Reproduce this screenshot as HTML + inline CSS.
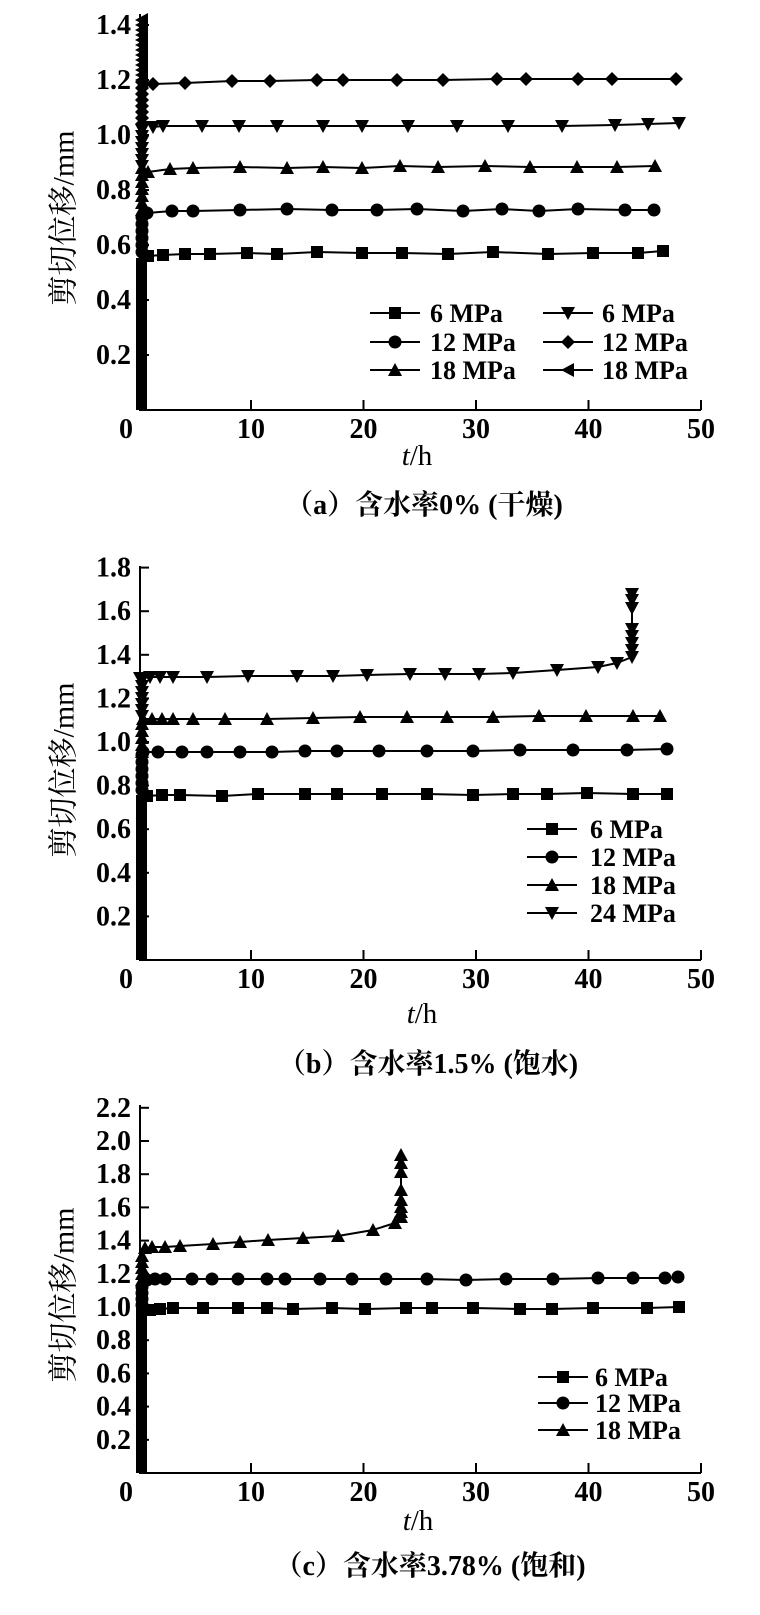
<!DOCTYPE html>
<html><head><meta charset="utf-8">
<style>
html,body{margin:0;padding:0;background:#fff;}
svg{display:block;}
text{font-family:"Liberation Serif","Noto Serif CJK SC",serif;fill:#000;}
.tk{font-size:28px;font-weight:bold;}
.lg{font-size:26px;font-weight:bold;}
.cap{font-size:28px;font-weight:bold;}
.yt{font-size:30px;}
.th{font-size:29px;}
</style></head>
<body>
<svg id="s" width="760" height="1615" viewBox="0 0 760 1615" xmlns="http://www.w3.org/2000/svg">
<g id="g"></g>
</svg>
<script>
const NS="http://www.w3.org/2000/svg";
const g=document.getElementById('g');
function el(t,a,txt){const e=document.createElementNS(NS,t);for(const k in a)e.setAttribute(k,a[k]);if(txt!==undefined)e.textContent=txt;g.appendChild(e);return e;}
function mk(type,x,y){
  if(type=='sq') el('rect',{x:x-6,y:y-6,width:12,height:12,fill:'#000'});
  else if(type=='ci') el('circle',{cx:x,cy:y,r:6.5,fill:'#000'});
  else if(type=='tu') el('polygon',{points:`${x-7},${y+6} ${x+7},${y+6} ${x},${y-7}`,fill:'#000'});
  else if(type=='td') el('polygon',{points:`${x-7},${y-6} ${x+7},${y-6} ${x},${y+7}`,fill:'#000'});
  else if(type=='di') el('polygon',{points:`${x},${y-7} ${x+7},${y} ${x},${y+7} ${x-7},${y}`,fill:'#000'});
  else if(type=='tl') el('polygon',{points:`${x-7},${y} ${x+6},${y-7} ${x+6},${y+7}`,fill:'#000'});
}
function series(type,pts){
  el('polyline',{points:pts.map(p=>p.join(',')).join(' '),fill:'none',stroke:'#000','stroke-width':2});
  pts.forEach(p=>mk(type,p[0],p[1]));
}
function axes(y0,top,ticks,per){
  el('line',{x1:140,y1:y0,x2:140,y2:top,stroke:'#000','stroke-width':2});
  el('line',{x1:139,y1:y0,x2:701,y2:y0,stroke:'#000','stroke-width':2});
  for(let i=1;i<=5;i++){const x=138.5+i*112.5;el('line',{x1:x,y1:y0,x2:x,y2:y0-10,stroke:'#000','stroke-width':2});
    el('text',{x:x,y:y0+28,'text-anchor':'middle',class:'tk'},String(i*10));}
  el('text',{x:126,y:y0+28,'text-anchor':'middle',class:'tk'},'0');
  ticks.forEach(v=>{const y=y0-v/0.2*per;el('line',{x1:140,y1:y,x2:149,y2:y,stroke:'#000','stroke-width':2});
    el('text',{x:131,y:y+9,'text-anchor':'end',class:'tk'},v.toFixed(1));});
}
function ytitle(cx,cy){
  el('text',{x:cx,y:cy,'text-anchor':'middle',class:'yt',transform:`rotate(-90 ${cx} ${cy})`,'dominant-baseline':'central'},'剪切位移/mm');
}
function th(x,y){const t=el('text',{x:x,y:y,'text-anchor':'middle',class:'th'});
  const a=document.createElementNS(NS,'tspan');a.setAttribute('font-style','italic');a.textContent='t';t.appendChild(a);
  const b=document.createElementNS(NS,'tspan');b.textContent='/h';t.appendChild(b);}
function leg(type,x1,x2,y,tx,label){el('line',{x1:x1,y1:y,x2:x2,y2:y,stroke:'#000','stroke-width':2});mk(type,(x1+x2)/2,y);
  el('text',{x:tx,y:y+9,class:'lg'},label);}

/* ---------- (a) ---------- */
axes(410,14,[0.2,0.4,0.6,0.8,1.0,1.2,1.4],55);
ytitle(64,218);
th(417,465);
el('text',{x:424,y:514,'text-anchor':'middle',class:'cap'},'（a）含水率0% (干燥)');
el('rect',{x:136,y:258,width:11,height:152,fill:'#000'});
for(let y=252;y>=212;y-=7) mk('ci',142,y);
for(let y=210;y>=168;y-=7) mk('tu',142,y);
for(let y=166;y>=126;y-=6) mk('td',142,y);
for(let y=124;y>=80;y-=6) mk('di',142,y);
for(let y=80;y>=18;y-=5) mk('tl',142,y);
series('sq',[[148,256],[163,255],[185,254],[210,254],[247,253],[277,254],[317,252],[362,253],[402,253],[448,254],[493,252],[548,254],[593,253],[638,253],[663,251]]);
series('ci',[[147,213],[172,211],[193,211],[240,210],[287,209],[332,210],[377,210],[417,209],[463,211],[502,209],[539,211],[578,209],[625,210],[654,210]]);
series('tu',[[148,172],[170,169],[193,168],[240,167],[287,168],[323,167],[362,168],[400,166],[438,167],[485,166],[530,167],[577,167],[617,167],[655,166]]);
series('td',[[153,127],[163,126],[202,126],[239,126],[277,126],[323,126],[362,126],[408,126],[457,126],[508,126],[562,126],[615,125],[648,124],[679,123]]);
series('di',[[153,84],[185,83],[232,81],[270,81],[317,80],[343,80],[397,80],[443,80],[497,79],[526,79],[578,79],[612,79],[676,79]]);
leg('sq',370,420,313,430,'6 MPa');
leg('ci',370,420,342,430,'12 MPa');
leg('tu',370,420,370,430,'18 MPa');
leg('td',543,593,313,602,'6 MPa');
leg('di',543,593,342,602,'12 MPa');
leg('tl',543,593,370,602,'18 MPa');

/* ---------- (b) ---------- */
axes(960,566,[0.2,0.4,0.6,0.8,1.0,1.2,1.4,1.6,1.8],43.6);
ytitle(64,770);
th(422,1023);
el('text',{x:428,y:1073,'text-anchor':'middle',class:'cap'},'（b）含水率1.5% (饱水)');
el('rect',{x:136,y:795,width:11,height:165,fill:'#000'});
for(let y=790;y>=755;y-=7) mk('ci',142,y);
for(let y=752;y>=718;y-=7) mk('tu',142,y);
for(let y=716;y>=680;y-=6) mk('td',142,y);
series('sq',[[147,796],[162,795],[180,795],[222,796],[258,794],[305,794],[337,794],[382,794],[427,794],[473,795],[513,794],[547,794],[587,793],[633,794],[667,794]]);
series('ci',[[143,752],[158,752],[182,752],[207,752],[240,752],[272,752],[305,751],[337,751],[379,751],[427,751],[473,751],[520,750],[573,750],[627,750],[667,749]]);
series('tu',[[143,719],[152,719],[162,719],[173,719],[193,719],[225,719],[267,719],[313,718],[360,717],[407,717],[447,717],[493,717],[539,716],[586,716],[633,716],[660,716]]);
series('td',[[140,678],[150,677],[160,677],[173,677],[207,677],[248,676],[297,676],[333,676],[367,675],[410,674],[445,674],[479,674],[513,673],[557,670],[598,667],[617,663],[632,657],[632,650],[632,643],[632,636],[632,629],[632,608],[632,600],[632,594]]);
leg('sq',527,577,829,590,'6 MPa');
leg('ci',527,577,857,590,'12 MPa');
leg('tu',527,577,885,590,'18 MPa');
leg('td',527,577,913,590,'24 MPa');

/* ---------- (c) ---------- */
axes(1473,1105,[0.2,0.4,0.6,0.8,1.0,1.2,1.4,1.6,1.8,2.0,2.2],33.2);
ytitle(64,1295);
th(418,1530);
el('text',{x:430,y:1575,'text-anchor':'middle',class:'cap'},'（c）含水率3.78% (饱和)');
el('rect',{x:136,y:1308,width:11,height:165,fill:'#000'});
for(let y=1305;y>=1282;y-=6) mk('ci',142,y);
for(let y=1280;y>=1252;y-=6) mk('tu',142,y);
series('sq',[[150,1310],[160,1309],[173,1308],[203,1308],[238,1308],[267,1308],[293,1309],[332,1308],[365,1309],[406,1308],[432,1308],[473,1308],[520,1309],[552,1309],[593,1308],[647,1308],[679,1307]]);
series('ci',[[147,1280],[155,1279],[165,1279],[192,1279],[212,1279],[238,1279],[267,1279],[285,1279],[320,1279],[352,1279],[386,1279],[427,1279],[466,1280],[506,1279],[553,1279],[598,1278],[633,1278],[665,1278],[678,1277]]);
series('tu',[[145,1248],[152,1247],[165,1247],[180,1246],[213,1244],[240,1242],[268,1240],[303,1238],[338,1236],[373,1230],[395,1223],[401,1217],[401,1212],[401,1207],[401,1200],[401,1190],[401,1172],[401,1163],[401,1155]]);
leg('sq',538,588,1377,595,'6 MPa');
leg('ci',538,588,1403,595,'12 MPa');
leg('tu',538,588,1430,595,'18 MPa');
</script>
</body></html>
